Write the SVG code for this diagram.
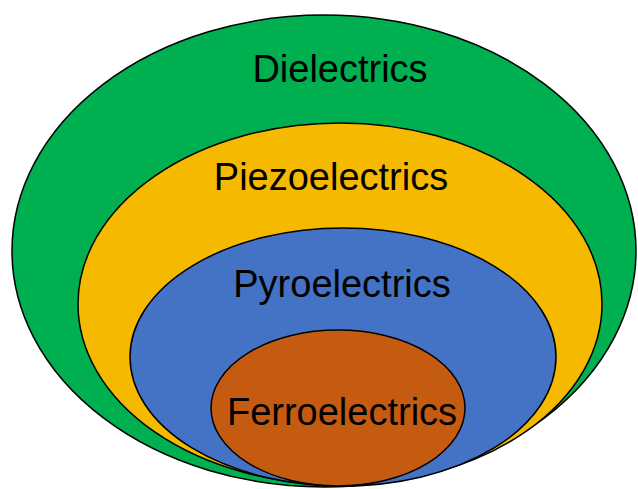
<svg xmlns="http://www.w3.org/2000/svg" width="638" height="489" viewBox="0 0 638 489">
<style>
.e{stroke:#000;stroke-width:1.5}
.t{font-family:"Liberation Sans",Arial,sans-serif;font-size:38px;fill:#000;text-anchor:middle}
</style>
<rect width="638" height="489" fill="#fff"/>
<g id="dielectrics"><ellipse class="e" cx="324" cy="251" rx="312" ry="236" fill="#00B050"/><text class="t" x="340" y="82">Dielectrics</text></g>
<g id="piezoelectrics"><ellipse class="e" cx="340" cy="304" rx="262" ry="181" fill="#F5BA00"/><text class="t" x="331" y="190">Piezoelectrics</text></g>
<g id="pyroelectrics"><ellipse class="e" cx="343" cy="357" rx="213" ry="129" fill="#4472C4"/><text class="t" x="342" y="297">Pyroelectrics</text></g>
<g id="ferroelectrics"><ellipse class="e" cx="338" cy="408" rx="127" ry="78" fill="#C55A11"/><text class="t" x="342" y="425">Ferroelectrics</text></g>
<g id="connectors"/>
</svg>
